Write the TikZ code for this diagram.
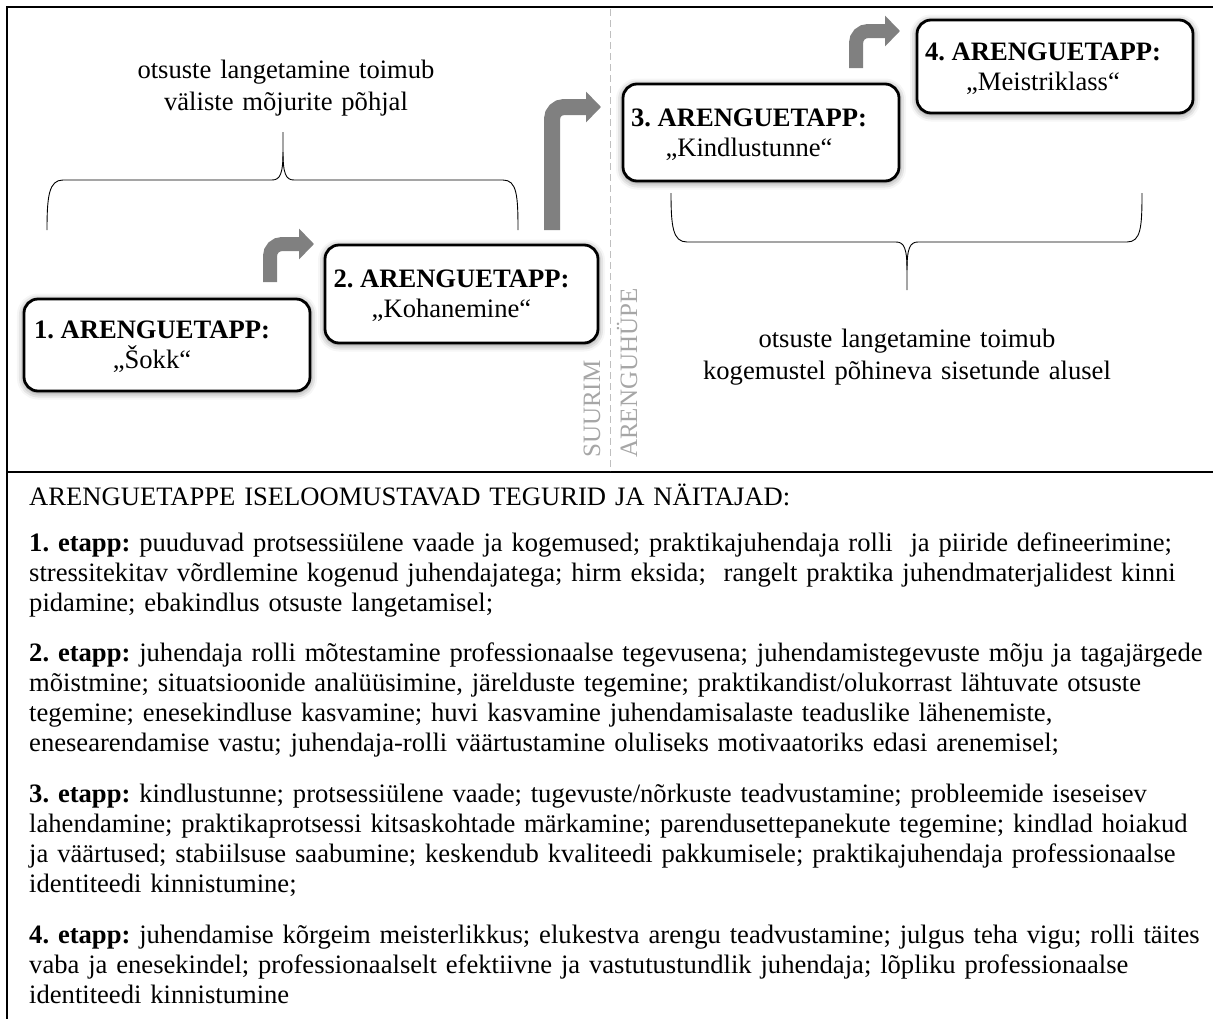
\documentclass[tikz,border=0pt]{standalone}
\usepackage{fontspec}
\setmainfont{Liberation Serif}
\usepackage{tikz}
\usetikzlibrary{arrows.meta, positioning, shadows.blur}
\frenchspacing

\definecolor{jumpgray}{RGB}{128,128,128}
\definecolor{splitgray}{RGB}{191,191,191}
\definecolor{leapgray}{RGB}{166,166,166}

\begin{document}
\begin{tikzpicture}[
    x=1pt, y=-1pt,
    stage box/.style = {
        rectangle,
        rounded corners=14pt,
        draw=black,
        line width=2.8pt,
        fill=white,
        inner sep=0pt,
        blur shadow={shadow xshift=0pt, shadow yshift=-1.5pt, shadow blur radius=7pt, shadow opacity=55}
    },
    stage text/.style = {align=center, inner sep=0pt, font=\fontsize{26.6}{30}\selectfont},
    jump arrow/.style = {-{Triangle[length=15pt, width=30pt]}, line width=14pt, jumpgray, rounded corners=12pt},
    brace line/.style = {draw=black, line width=0.9pt},
    split line/.style = {splitgray, line width=1pt, dash pattern=on 7pt off 4pt},
    frame line/.style = {draw=black, line width=2.6pt},
    note text/.style = {align=center, text width=560pt, inner sep=0pt, font=\fontsize{26.6}{32}\selectfont},
    leap text/.style = {rotate=90, anchor=base west, inner sep=0pt, text=leapgray, font=\fontsize{25}{30}\selectfont},
    trait text/.style = {anchor=base west, align=left, text width=1250pt, inner sep=0pt, font=\fontsize{26.6}{30}\selectfont}
]
\useasboundingbox (0,0) rectangle (1213,1018);

\draw[frame line] (7,1030) -- (7,7) -- (1225,7);
\draw[frame line] (7,472) -- (1225,472);
\draw[split line] (610,9) -- (610,471);

\node[leap text] (suurim) at (600,458) {SUURIM};
\node[leap text] (arenguhype) at (637,458) {ARENGUHÜPE};

\node[stage box, minimum width=286pt, minimum height=92pt] (etapp1) at (167,345) {};
\node[stage box, minimum width=273pt, minimum height=98pt] (etapp2) at (461.5,294) {};
\node[stage box, minimum width=276pt, minimum height=97pt] (etapp3) at (761,132.5) {};
\node[stage box, minimum width=276pt, minimum height=93pt] (etapp4) at (1055,66.5) {};

\node[stage text] (etapp1text) at ([xshift=-15pt, yshift=-2pt]etapp1.center) {\textbf{1. ARENGUETAPP:}\\„Šokk“};
\node[stage text] (etapp2text) at ([xshift=-10pt, yshift=-2pt]etapp2.center) {\textbf{2. ARENGUETAPP:}\\„Kohanemine“};
\node[stage text] (etapp3text) at ([xshift=-12pt, yshift=-2pt]etapp3.center) {\textbf{3. ARENGUETAPP:}\\„Kindlustunne“};
\node[stage text] (etapp4text) at ([xshift=-12pt, yshift=-2pt]etapp4.center) {\textbf{4. ARENGUETAPP:}\\„Meistriklass“};

\draw[jump arrow] (270,282) |- (314,244);
\draw[jump arrow, line width=16pt] (552,230) |- (601,107);
\draw[jump arrow] (856,68) |- (900,31);

\draw[brace line] (47,230) .. controls (47,196) and (49,180) .. (63,180) -- (272,180) .. controls (280,180) and (283,174) .. (283,152) -- (283,132);
\draw[brace line] (283,152) .. controls (283,174) and (286,180) .. (294,180) -- (503,180) .. controls (517,180) and (518,196) .. (518,230);
\draw[brace line] (671,193) .. controls (671,227) and (673,242) .. (687,242) -- (896,242) .. controls (904,242) and (907,248) .. (907,270) -- (907,290);
\draw[brace line] (907,270) .. controls (907,248) and (910,242) .. (918,242) -- (1127,242) .. controls (1141,242) and (1142,227) .. (1142,193);

\node[note text, anchor=base] (outsidenote) at (286,78) {otsuste langetamine toimub\\väliste mõjurite põhjal};
\node[note text, anchor=base] (insidenote) at (907,347) {otsuste langetamine toimub\\kogemustel põhineva sisetunde alusel};

\node[trait text] (traithead) at (29,505) {ARENGUETAPPE ISELOOMUSTAVAD TEGURID JA NÄITAJAD:};
\node[trait text] (trait1) at (29,551) {\textbf{1. etapp:} puuduvad protsessiülene vaade ja kogemused; praktikajuhendaja rolli~ ja piiride defineerimine;\\
stressitekitav võrdlemine kogenud juhendajatega; hirm eksida;~ rangelt praktika juhendmaterjalidest kinni\\
pidamine; ebakindlus otsuste langetamisel;};
\node[trait text] (trait2) at (29,661) {\textbf{2. etapp:} juhendaja rolli mõtestamine professionaalse tegevusena; juhendamistegevuste mõju ja tagajärgede\\
mõistmine; situatsioonide analüüsimine, järelduste tegemine; praktikandist/olukorrast lähtuvate otsuste\\
tegemine; enesekindluse kasvamine; huvi kasvamine juhendamisalaste teaduslike lähenemiste,\\
enesearendamise vastu; juhendaja-rolli väärtustamine oluliseks motivaatoriks edasi arenemisel;};
\node[trait text] (trait3) at (29,802) {\textbf{3. etapp:} kindlustunne; protsessiülene vaade; tugevuste/nõrkuste teadvustamine; probleemide iseseisev\\
lahendamine; praktikaprotsessi kitsaskohtade märkamine; parendusettepanekute tegemine; kindlad hoiakud\\
ja väärtused; stabiilsuse saabumine; keskendub kvaliteedi pakkumisele; praktikajuhendaja professionaalse\\
identiteedi kinnistumine;};
\node[trait text] (trait4) at (29,943) {\textbf{4. etapp:} juhendamise kõrgeim meisterlikkus; elukestva arengu teadvustamine; julgus teha vigu; rolli täites\\
vaba ja enesekindel; professionaalselt efektiivne ja vastutustundlik juhendaja; lõpliku professionaalse\\
identiteedi kinnistumine};
\end{tikzpicture}
\end{document}
